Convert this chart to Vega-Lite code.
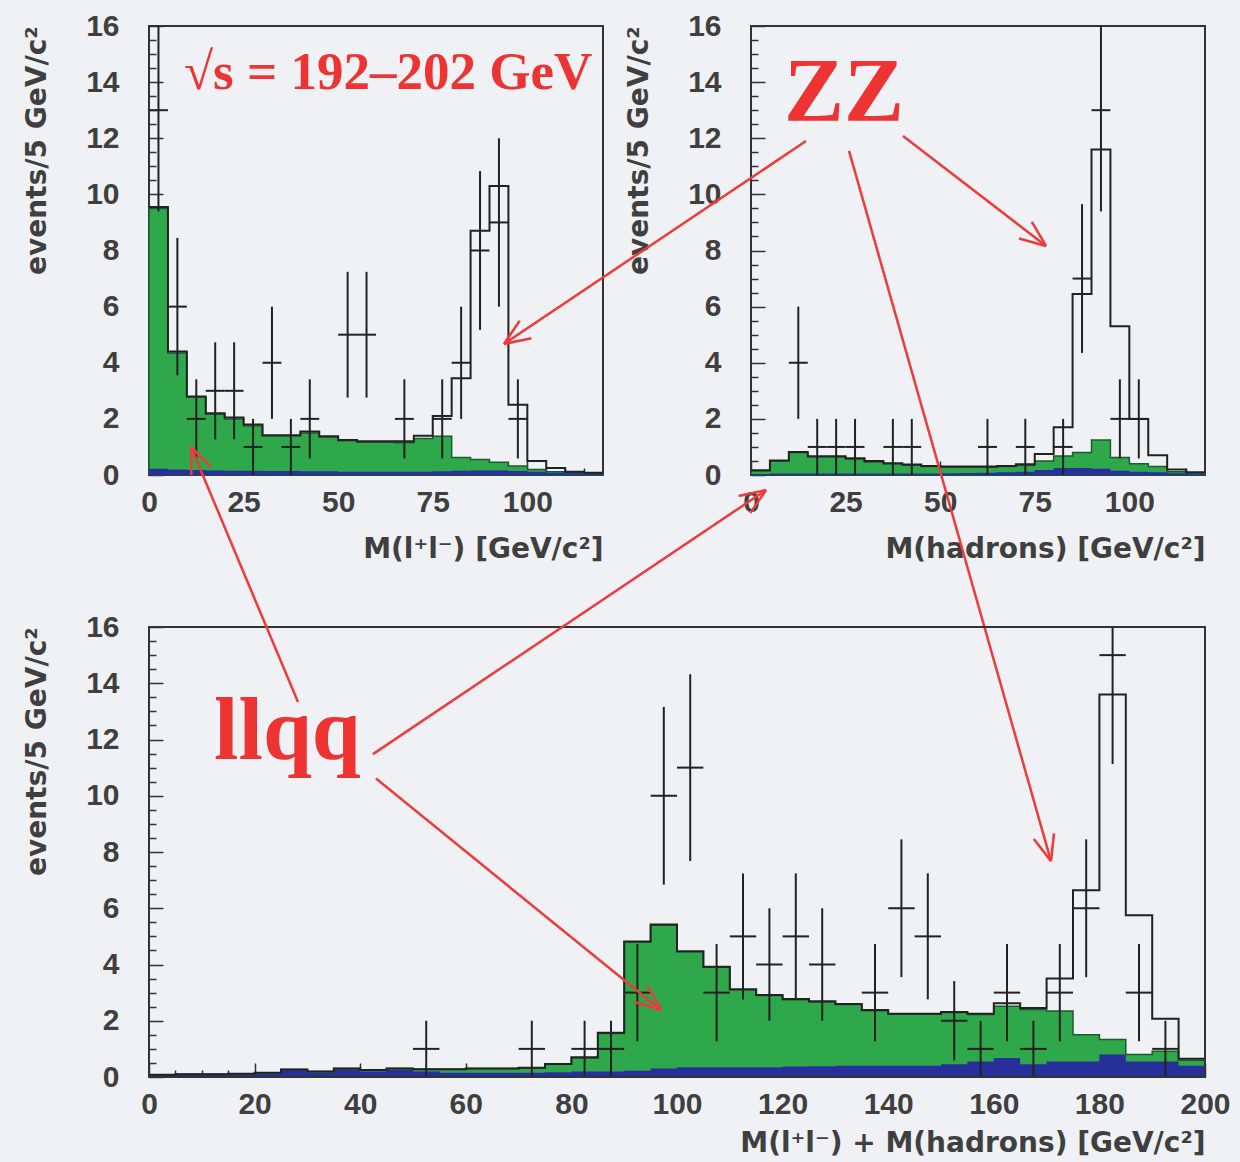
{
  "$schema": "https://vega.github.io/schema/vega-lite/v6.json",
  "background": "#eff1f4",
  "padding": {"left": 22, "top": 10, "right": 10, "bottom": 10},
  "config": {
    "view": {"stroke": "#333333", "strokeWidth": 2},
    "axis": {
      "labelFont": "Liberation Sans", "labelFontSize": 30, "labelFontWeight": "bold", "labelColor": "#3f3f3f",
      "titleFont": "DejaVu Sans", "titleFontSize": 28, "titleFontWeight": "bold", "titleColor": "#3f3f3f",
      "grid": false, "domain": false, "tickColor": "#333333", "tickWidth": 1.5,
      "labelFlush": false, "labelOverlap": false, "labelBound": false, "zindex": 1
    }
  },
  "datasets": {
    "tl_h": [
      {"x": 0, "green": 9.5, "blue": 0.22, "total": 9.55},
      {"x": 5, "green": 4.35, "blue": 0.2, "total": 4.4},
      {"x": 10, "green": 2.78, "blue": 0.18, "total": 2.8},
      {"x": 15, "green": 2.17, "blue": 0.16, "total": 2.2},
      {"x": 20, "green": 2.0, "blue": 0.15, "total": 2.05},
      {"x": 25, "green": 1.75, "blue": 0.15, "total": 1.8},
      {"x": 30, "green": 1.4, "blue": 0.14, "total": 1.42},
      {"x": 35, "green": 1.4, "blue": 0.14, "total": 1.42},
      {"x": 40, "green": 1.5, "blue": 0.13, "total": 1.55},
      {"x": 45, "green": 1.35, "blue": 0.13, "total": 1.38},
      {"x": 50, "green": 1.22, "blue": 0.12, "total": 1.25},
      {"x": 55, "green": 1.17, "blue": 0.12, "total": 1.2},
      {"x": 60, "green": 1.17, "blue": 0.12, "total": 1.2},
      {"x": 65, "green": 1.15, "blue": 0.12, "total": 1.2},
      {"x": 70, "green": 1.3, "blue": 0.12, "total": 1.4},
      {"x": 75, "green": 1.38, "blue": 0.13, "total": 2.1},
      {"x": 80, "green": 0.62, "blue": 0.15, "total": 3.45},
      {"x": 85, "green": 0.55, "blue": 0.16, "total": 8.7},
      {"x": 90, "green": 0.45, "blue": 0.16, "total": 10.3},
      {"x": 95, "green": 0.32, "blue": 0.14, "total": 2.5},
      {"x": 100, "green": 0.2, "blue": 0.12, "total": 0.5},
      {"x": 105, "green": 0.12, "blue": 0.08, "total": 0.25},
      {"x": 110, "green": 0.08, "blue": 0.06, "total": 0.12},
      {"x": 115, "green": 0.06, "blue": 0.05, "total": 0.08},
      {"x": 120, "green": 0.06, "blue": 0.05, "total": 0.08}
    ],
    "tl_p": [
      {"xc": 2.5, "xlo": 0, "xhi": 5, "n": 13, "lo": 9.39, "hi": 16.61},
      {"xc": 7.5, "xlo": 5, "xhi": 10, "n": 6, "lo": 3.55, "hi": 8.45},
      {"xc": 12.5, "xlo": 10, "xhi": 15, "n": 2, "lo": 0.59, "hi": 3.41},
      {"xc": 17.5, "xlo": 15, "xhi": 20, "n": 3, "lo": 1.27, "hi": 4.73},
      {"xc": 22.5, "xlo": 20, "xhi": 25, "n": 3, "lo": 1.27, "hi": 4.73},
      {"xc": 27.5, "xlo": 25, "xhi": 30, "n": 1, "lo": 0, "hi": 2},
      {"xc": 32.5, "xlo": 30, "xhi": 35, "n": 4, "lo": 2, "hi": 6},
      {"xc": 37.5, "xlo": 35, "xhi": 40, "n": 1, "lo": 0, "hi": 2},
      {"xc": 42.5, "xlo": 40, "xhi": 45, "n": 2, "lo": 0.59, "hi": 3.41},
      {"xc": 52.5, "xlo": 50, "xhi": 55, "n": 5, "lo": 2.76, "hi": 7.24},
      {"xc": 57.5, "xlo": 55, "xhi": 60, "n": 5, "lo": 2.76, "hi": 7.24},
      {"xc": 67.5, "xlo": 65, "xhi": 70, "n": 2, "lo": 0.59, "hi": 3.41},
      {"xc": 77.5, "xlo": 75, "xhi": 80, "n": 2, "lo": 0.59, "hi": 3.41},
      {"xc": 82.5, "xlo": 80, "xhi": 85, "n": 4, "lo": 2, "hi": 6},
      {"xc": 87.5, "xlo": 85, "xhi": 90, "n": 8, "lo": 5.17, "hi": 10.83},
      {"xc": 92.5, "xlo": 90, "xhi": 95, "n": 9, "lo": 6, "hi": 12},
      {"xc": 97.5, "xlo": 95, "xhi": 100, "n": 2, "lo": 0.59, "hi": 3.41}
    ],
    "tr_h": [
      {"x": 0, "green": 0.15, "blue": 0.04, "total": 0.17},
      {"x": 5, "green": 0.5, "blue": 0.05, "total": 0.52},
      {"x": 10, "green": 0.8, "blue": 0.05, "total": 0.82},
      {"x": 15, "green": 0.65, "blue": 0.05, "total": 0.67},
      {"x": 20, "green": 0.65, "blue": 0.05, "total": 0.67},
      {"x": 25, "green": 0.57, "blue": 0.05, "total": 0.6},
      {"x": 30, "green": 0.46, "blue": 0.05, "total": 0.5},
      {"x": 35, "green": 0.4, "blue": 0.05, "total": 0.42},
      {"x": 40, "green": 0.35, "blue": 0.05, "total": 0.37},
      {"x": 45, "green": 0.3, "blue": 0.05, "total": 0.32},
      {"x": 50, "green": 0.28, "blue": 0.06, "total": 0.3},
      {"x": 55, "green": 0.28, "blue": 0.07, "total": 0.3},
      {"x": 60, "green": 0.28, "blue": 0.08, "total": 0.3},
      {"x": 65, "green": 0.3, "blue": 0.1, "total": 0.32},
      {"x": 70, "green": 0.34, "blue": 0.12, "total": 0.38},
      {"x": 75, "green": 0.5, "blue": 0.18, "total": 0.75},
      {"x": 80, "green": 0.68, "blue": 0.25, "total": 1.7},
      {"x": 85, "green": 0.8, "blue": 0.25, "total": 6.45},
      {"x": 90, "green": 1.25, "blue": 0.22, "total": 11.6},
      {"x": 95, "green": 0.62, "blue": 0.15, "total": 5.3},
      {"x": 100, "green": 0.4, "blue": 0.12, "total": 2.0},
      {"x": 105, "green": 0.3, "blue": 0.1, "total": 0.7},
      {"x": 110, "green": 0.12, "blue": 0.06, "total": 0.2},
      {"x": 115, "green": 0.08, "blue": 0.05, "total": 0.1},
      {"x": 120, "green": 0.08, "blue": 0.05, "total": 0.1}
    ],
    "tr_p": [
      {"xc": 12.5, "xlo": 10, "xhi": 15, "n": 4, "lo": 2, "hi": 6},
      {"xc": 17.5, "xlo": 15, "xhi": 20, "n": 1, "lo": 0, "hi": 2},
      {"xc": 22.5, "xlo": 20, "xhi": 25, "n": 1, "lo": 0, "hi": 2},
      {"xc": 27.5, "xlo": 25, "xhi": 30, "n": 1, "lo": 0, "hi": 2},
      {"xc": 37.5, "xlo": 35, "xhi": 40, "n": 1, "lo": 0, "hi": 2},
      {"xc": 42.5, "xlo": 40, "xhi": 45, "n": 1, "lo": 0, "hi": 2},
      {"xc": 62.5, "xlo": 60, "xhi": 65, "n": 1, "lo": 0, "hi": 2},
      {"xc": 72.5, "xlo": 70, "xhi": 75, "n": 1, "lo": 0, "hi": 2},
      {"xc": 82.5, "xlo": 80, "xhi": 85, "n": 1, "lo": 0, "hi": 2},
      {"xc": 87.5, "xlo": 85, "xhi": 90, "n": 7, "lo": 4.35, "hi": 9.65},
      {"xc": 92.5, "xlo": 90, "xhi": 95, "n": 13, "lo": 9.39, "hi": 16.61},
      {"xc": 97.5, "xlo": 95, "xhi": 100, "n": 2, "lo": 0.59, "hi": 3.41},
      {"xc": 102.5, "xlo": 100, "xhi": 105, "n": 2, "lo": 0.59, "hi": 3.41}
    ],
    "tr_arrows": [
      {"x": 14.54, "y": 11.9, "x2": -65.29, "y2": 4.67},
      {"x": -65.29, "y": 4.67, "x2": -58.05, "y2": 4.875},
      {"x": -65.29, "y": 4.67, "x2": -61.14, "y2": 5.495},
      {"x": 40.18, "y": 12.08, "x2": 77.98, "y2": 8.161},
      {"x": 77.98, "y": 8.161, "x2": 74.23, "y2": 9.024},
      {"x": 77.98, "y": 8.161, "x2": 70.84, "y2": 8.428},
      {"x": 25.91, "y": 11.55, "x2": 79.3, "y2": -13.76},
      {"x": 79.3, "y": -13.76, "x2": 80.09, "y2": -12.77},
      {"x": 79.3, "y": -13.76, "x2": 74.76, "y2": -12.97}
    ],
    "b_h": [
      {"x": 0, "green": 0.08, "blue": 0.06, "total": 0.08},
      {"x": 5, "green": 0.1, "blue": 0.08, "total": 0.1},
      {"x": 10, "green": 0.1, "blue": 0.08, "total": 0.1},
      {"x": 15, "green": 0.12, "blue": 0.1, "total": 0.12},
      {"x": 20, "green": 0.15, "blue": 0.12, "total": 0.15},
      {"x": 25, "green": 0.27, "blue": 0.25, "total": 0.27},
      {"x": 30, "green": 0.2, "blue": 0.15, "total": 0.2},
      {"x": 35, "green": 0.3, "blue": 0.27, "total": 0.3},
      {"x": 40, "green": 0.25, "blue": 0.2, "total": 0.25},
      {"x": 45, "green": 0.3, "blue": 0.25, "total": 0.3},
      {"x": 50, "green": 0.28, "blue": 0.2, "total": 0.28},
      {"x": 55, "green": 0.28, "blue": 0.15, "total": 0.28},
      {"x": 60, "green": 0.3, "blue": 0.15, "total": 0.3},
      {"x": 65, "green": 0.3, "blue": 0.15, "total": 0.3},
      {"x": 70, "green": 0.32, "blue": 0.15, "total": 0.33},
      {"x": 75, "green": 0.45, "blue": 0.17, "total": 0.46},
      {"x": 80, "green": 0.68, "blue": 0.2, "total": 0.7},
      {"x": 85, "green": 1.55, "blue": 0.2, "total": 1.57},
      {"x": 90, "green": 4.8, "blue": 0.22, "total": 4.82},
      {"x": 95, "green": 5.4, "blue": 0.3, "total": 5.42},
      {"x": 100, "green": 4.45, "blue": 0.35, "total": 4.47},
      {"x": 105, "green": 3.9, "blue": 0.35, "total": 3.92},
      {"x": 110, "green": 3.1, "blue": 0.35, "total": 3.12},
      {"x": 115, "green": 2.9, "blue": 0.35, "total": 2.92},
      {"x": 120, "green": 2.75, "blue": 0.37, "total": 2.77},
      {"x": 125, "green": 2.67, "blue": 0.38, "total": 2.69},
      {"x": 130, "green": 2.58, "blue": 0.4, "total": 2.6},
      {"x": 135, "green": 2.36, "blue": 0.4, "total": 2.38},
      {"x": 140, "green": 2.23, "blue": 0.4, "total": 2.25},
      {"x": 145, "green": 2.23, "blue": 0.4, "total": 2.25},
      {"x": 150, "green": 2.29, "blue": 0.45, "total": 2.31},
      {"x": 155, "green": 2.22, "blue": 0.55, "total": 2.25},
      {"x": 160, "green": 2.52, "blue": 0.68, "total": 2.62},
      {"x": 165, "green": 2.4, "blue": 0.45, "total": 2.45},
      {"x": 170, "green": 2.35, "blue": 0.55, "total": 3.5},
      {"x": 175, "green": 1.5, "blue": 0.55, "total": 6.64},
      {"x": 180, "green": 1.33, "blue": 0.8, "total": 13.6},
      {"x": 185, "green": 0.8, "blue": 0.55, "total": 5.75},
      {"x": 190, "green": 0.92, "blue": 0.55, "total": 2.07},
      {"x": 195, "green": 0.6, "blue": 0.4, "total": 0.65},
      {"x": 200, "green": 0.6, "blue": 0.4, "total": 0.65}
    ],
    "b_p": [
      {"xc": 52.5, "xlo": 50, "xhi": 55, "n": 1, "lo": 0, "hi": 2},
      {"xc": 72.5, "xlo": 70, "xhi": 75, "n": 1, "lo": 0, "hi": 2},
      {"xc": 82.5, "xlo": 80, "xhi": 85, "n": 1, "lo": 0, "hi": 2},
      {"xc": 87.5, "xlo": 85, "xhi": 90, "n": 1, "lo": 0, "hi": 2},
      {"xc": 92.5, "xlo": 90, "xhi": 95, "n": 3, "lo": 1.27, "hi": 4.73},
      {"xc": 97.5, "xlo": 95, "xhi": 100, "n": 10, "lo": 6.84, "hi": 13.16},
      {"xc": 102.5, "xlo": 100, "xhi": 105, "n": 11, "lo": 7.68, "hi": 14.32},
      {"xc": 107.5, "xlo": 105, "xhi": 110, "n": 3, "lo": 1.27, "hi": 4.73},
      {"xc": 112.5, "xlo": 110, "xhi": 115, "n": 5, "lo": 2.76, "hi": 7.24},
      {"xc": 117.5, "xlo": 115, "xhi": 120, "n": 4, "lo": 2, "hi": 6},
      {"xc": 122.5, "xlo": 120, "xhi": 125, "n": 5, "lo": 2.76, "hi": 7.24},
      {"xc": 127.5, "xlo": 125, "xhi": 130, "n": 4, "lo": 2, "hi": 6},
      {"xc": 137.5, "xlo": 135, "xhi": 140, "n": 3, "lo": 1.27, "hi": 4.73},
      {"xc": 142.5, "xlo": 140, "xhi": 145, "n": 6, "lo": 3.55, "hi": 8.45},
      {"xc": 147.5, "xlo": 145, "xhi": 150, "n": 5, "lo": 2.76, "hi": 7.24},
      {"xc": 152.5, "xlo": 150, "xhi": 155, "n": 2, "lo": 0.59, "hi": 3.41},
      {"xc": 157.5, "xlo": 155, "xhi": 160, "n": 1, "lo": 0, "hi": 2},
      {"xc": 162.5, "xlo": 160, "xhi": 165, "n": 3, "lo": 1.27, "hi": 4.73},
      {"xc": 167.5, "xlo": 165, "xhi": 170, "n": 1, "lo": 0, "hi": 2},
      {"xc": 172.5, "xlo": 170, "xhi": 175, "n": 3, "lo": 1.27, "hi": 4.73},
      {"xc": 177.5, "xlo": 175, "xhi": 180, "n": 6, "lo": 3.55, "hi": 8.45},
      {"xc": 182.5, "xlo": 180, "xhi": 185, "n": 15, "lo": 11.13, "hi": 16},
      {"xc": 187.5, "xlo": 185, "xhi": 190, "n": 3, "lo": 1.27, "hi": 4.73},
      {"xc": 192.5, "xlo": 190, "xhi": 195, "n": 1, "lo": 0, "hi": 2}
    ],
    "b_arrows": [
      {"x": 28.22, "y": 13.33, "x2": 7.955, "y2": 22.4},
      {"x": 7.955, "y": 22.4, "x2": 8.03, "y2": 21.4},
      {"x": 7.955, "y": 22.4, "x2": 11.69, "y2": 21.69},
      {"x": 42.42, "y": 11.48, "x2": 116.86, "y2": 20.87},
      {"x": 116.86, "y": 20.87, "x2": 111.67, "y2": 20.66},
      {"x": 116.86, "y": 20.87, "x2": 113.88, "y2": 20.05},
      {"x": 42.99, "y": 10.61, "x2": 96.97, "y2": 2.382},
      {"x": 96.97, "y": 2.382, "x2": 94.39, "y2": 3.253},
      {"x": 96.97, "y": 2.382, "x2": 91.89, "y2": 2.674}
    ]
  },
  "bounds": "flush",
  "columns": 2,
  "align": "all",
  "spacing": {"row": 151, "column": 148},
  "concat": [
    {
      "width": 454, "height": 449,
      "resolve": {"axis": {"x": "independent", "y": "independent"}},
      "layer": [
        {"data": {"name": "tl_h"},
         "mark": {"type": "area", "interpolate": "step-after", "fill": "#2ea84a", "stroke": "#1f5a2e", "strokeWidth": 1.5},
         "encoding": {
           "x": {"field": "x", "type": "quantitative", "scale": {"domain": [0, 120], "nice": false, "zero": false},
                 "axis": {"values": [0, 25, 50, 75, 100], "tickSize": -14, "labelPadding": 26, "title": "M(l⁺l⁻) [GeV/c²]", "titleAnchor": "end", "titlePadding": 18}},
           "y": {"field": "green", "type": "quantitative", "scale": {"domain": [0, 16], "nice": false},
                 "axis": {"values": [0, 2, 4, 6, 8, 10, 12, 14, 16], "tickSize": -14, "labelPadding": 44, "title": "events/5 GeV/c²", "titleAnchor": "end", "titlePadding": 34}}
         }},
        {"data": {"name": "tl_h"},
         "mark": {"type": "area", "interpolate": "step-after", "fill": "#27309a"},
         "encoding": {
           "x": {"field": "x", "type": "quantitative", "scale": {"domain": [0, 120], "nice": false, "zero": false},
                 "axis": {"values": [5, 10, 15, 20, 30, 35, 40, 45, 55, 60, 65, 70, 80, 85, 90, 95, 105, 110, 115], "tickSize": -7, "labels": false, "title": null, "orient": "bottom"}},
           "y": {"field": "blue", "type": "quantitative", "scale": {"domain": [0, 16], "nice": false},
                 "axis": {"values": [0.5, 1, 1.5, 2.5, 3, 3.5, 4.5, 5, 5.5, 6.5, 7, 7.5, 8.5, 9, 9.5, 10.5, 11, 11.5, 12.5, 13, 13.5, 14.5, 15, 15.5], "tickSize": -7, "labels": false, "title": null, "orient": "left"}}
         }},
        {"data": {"name": "tl_h"},
         "mark": {"type": "line", "interpolate": "step-after", "stroke": "#222222", "strokeWidth": 2},
         "encoding": {
           "x": {"field": "x", "type": "quantitative", "scale": {"domain": [0, 120], "nice": false, "zero": false}, "axis": null},
           "y": {"field": "total", "type": "quantitative", "scale": {"domain": [0, 16], "nice": false}, "axis": null}
         }},
        {"data": {"name": "tl_p"},
         "mark": {"type": "rule", "stroke": "#222222", "strokeWidth": 2, "clip": true},
         "encoding": {
           "x": {"field": "xc", "type": "quantitative", "scale": {"domain": [0, 120], "nice": false, "zero": false}, "axis": null},
           "y": {"field": "lo", "type": "quantitative", "scale": {"domain": [0, 16], "nice": false}, "axis": null},
           "y2": {"field": "hi"}
         }},
        {"data": {"name": "tl_p"},
         "mark": {"type": "rule", "stroke": "#222222", "strokeWidth": 2, "clip": true},
         "encoding": {
           "x": {"field": "xlo", "type": "quantitative", "scale": {"domain": [0, 120], "nice": false, "zero": false}, "axis": null},
           "x2": {"field": "xhi"},
           "y": {"field": "n", "type": "quantitative", "scale": {"domain": [0, 16], "nice": false}, "axis": null}
         }},
        {"data": {"values": [{"label": "√s = 192–202 GeV"}]},
         "mark": {"type": "text", "font": "Liberation Serif", "fontWeight": "bold", "fontSize": 53, "fill": "#ee3333", "align": "left", "baseline": "alphabetic"},
         "encoding": {
           "x": {"datum": 9.25, "type": "quantitative", "scale": {"domain": [0, 120], "nice": false, "zero": false}, "axis": null},
           "y": {"datum": 13.76, "type": "quantitative", "scale": {"domain": [0, 16], "nice": false}, "axis": null},
           "text": {"field": "label"}
         }}
      ]
    },
    {
      "width": 454, "height": 449,
      "resolve": {"axis": {"x": "independent", "y": "independent"}},
      "layer": [
        {"data": {"name": "tr_h"},
         "mark": {"type": "area", "interpolate": "step-after", "fill": "#2ea84a", "stroke": "#1f5a2e", "strokeWidth": 1.5},
         "encoding": {
           "x": {"field": "x", "type": "quantitative", "scale": {"domain": [0, 120], "nice": false, "zero": false},
                 "axis": {"values": [0, 25, 50, 75, 100], "tickSize": -14, "labelPadding": 26, "title": "M(hadrons) [GeV/c²]", "titleAnchor": "end", "titlePadding": 18}},
           "y": {"field": "green", "type": "quantitative", "scale": {"domain": [0, 16], "nice": false},
                 "axis": {"values": [0, 2, 4, 6, 8, 10, 12, 14, 16], "tickSize": -14, "labelPadding": 44, "title": "events/5 GeV/c²", "titleAnchor": "end", "titlePadding": 34}}
         }},
        {"data": {"name": "tr_h"},
         "mark": {"type": "area", "interpolate": "step-after", "fill": "#27309a"},
         "encoding": {
           "x": {"field": "x", "type": "quantitative", "scale": {"domain": [0, 120], "nice": false, "zero": false},
                 "axis": {"values": [5, 10, 15, 20, 30, 35, 40, 45, 55, 60, 65, 70, 80, 85, 90, 95, 105, 110, 115], "tickSize": -7, "labels": false, "title": null, "orient": "bottom"}},
           "y": {"field": "blue", "type": "quantitative", "scale": {"domain": [0, 16], "nice": false},
                 "axis": {"values": [0.5, 1, 1.5, 2.5, 3, 3.5, 4.5, 5, 5.5, 6.5, 7, 7.5, 8.5, 9, 9.5, 10.5, 11, 11.5, 12.5, 13, 13.5, 14.5, 15, 15.5], "tickSize": -7, "labels": false, "title": null, "orient": "left"}}
         }},
        {"data": {"name": "tr_h"},
         "mark": {"type": "line", "interpolate": "step-after", "stroke": "#222222", "strokeWidth": 2},
         "encoding": {
           "x": {"field": "x", "type": "quantitative", "scale": {"domain": [0, 120], "nice": false, "zero": false}, "axis": null},
           "y": {"field": "total", "type": "quantitative", "scale": {"domain": [0, 16], "nice": false}, "axis": null}
         }},
        {"data": {"name": "tr_p"},
         "mark": {"type": "rule", "stroke": "#222222", "strokeWidth": 2, "clip": true},
         "encoding": {
           "x": {"field": "xc", "type": "quantitative", "scale": {"domain": [0, 120], "nice": false, "zero": false}, "axis": null},
           "y": {"field": "lo", "type": "quantitative", "scale": {"domain": [0, 16], "nice": false}, "axis": null},
           "y2": {"field": "hi"}
         }},
        {"data": {"name": "tr_p"},
         "mark": {"type": "rule", "stroke": "#222222", "strokeWidth": 2, "clip": true},
         "encoding": {
           "x": {"field": "xlo", "type": "quantitative", "scale": {"domain": [0, 120], "nice": false, "zero": false}, "axis": null},
           "x2": {"field": "xhi"},
           "y": {"field": "n", "type": "quantitative", "scale": {"domain": [0, 16], "nice": false}, "axis": null}
         }},
        {"data": {"values": [{"label": "ZZ"}]},
         "mark": {"type": "text", "font": "Liberation Serif", "fontWeight": "bold", "fontSize": 90, "fill": "#ee3333", "align": "left", "baseline": "alphabetic"},
         "encoding": {
           "x": {"datum": 8.72, "type": "quantitative", "scale": {"domain": [0, 120], "nice": false, "zero": false}, "axis": null},
           "y": {"datum": 12.62, "type": "quantitative", "scale": {"domain": [0, 16], "nice": false}, "axis": null},
           "text": {"field": "label"}
         }},
        {"data": {"name": "tr_arrows"},
         "mark": {"type": "rule", "stroke": "#ee3b3b", "strokeWidth": 2.5},
         "encoding": {
           "x": {"field": "x", "type": "quantitative", "scale": {"domain": [0, 120], "nice": false, "zero": false}, "axis": null},
           "y": {"field": "y", "type": "quantitative", "scale": {"domain": [0, 16], "nice": false}, "axis": null},
           "x2": {"field": "x2"},
           "y2": {"field": "y2"}
         }}
      ]
    },
    {
      "width": 454, "height": 450,
      "view": {"stroke": null},
      "resolve": {"axis": {"x": "independent", "y": "independent"}},
      "layer": [
        {"data": {"name": "b_h"},
         "mark": {"type": "area", "interpolate": "step-after", "fill": "#2ea84a", "stroke": "#1f5a2e", "strokeWidth": 1.5},
         "encoding": {
           "x": {"field": "x", "type": "quantitative", "scale": {"domain": [0, 200], "range": [0, 1056], "nice": false, "zero": false},
                 "axis": {"values": [0, 20, 40, 60, 80, 100, 120, 140, 160, 180, 200], "tickSize": -14, "labelPadding": 26, "title": "M(l⁺l⁻) + M(hadrons) [GeV/c²]", "titleAnchor": "end", "titlePadding": 10}},
           "y": {"field": "green", "type": "quantitative", "scale": {"domain": [0, 16], "nice": false},
                 "axis": {"values": [0, 2, 4, 6, 8, 10, 12, 14, 16], "tickSize": -14, "labelPadding": 44, "title": "events/5 GeV/c²", "titleAnchor": "end", "titlePadding": 34}}
         }},
        {"data": {"name": "b_h"},
         "mark": {"type": "area", "interpolate": "step-after", "fill": "#27309a"},
         "encoding": {
           "x": {"field": "x", "type": "quantitative", "scale": {"domain": [0, 200], "range": [0, 1056], "nice": false, "zero": false},
                 "axis": {"values": [5, 10, 15, 25, 30, 35, 45, 50, 55, 65, 70, 75, 85, 90, 95, 105, 110, 115, 125, 130, 135, 145, 150, 155, 165, 170, 175, 185, 190, 195], "tickSize": -7, "labels": false, "title": null, "orient": "bottom"}},
           "y": {"field": "blue", "type": "quantitative", "scale": {"domain": [0, 16], "nice": false},
                 "axis": {"values": [0.5, 1, 1.5, 2.5, 3, 3.5, 4.5, 5, 5.5, 6.5, 7, 7.5, 8.5, 9, 9.5, 10.5, 11, 11.5, 12.5, 13, 13.5, 14.5, 15, 15.5], "tickSize": -7, "labels": false, "title": null, "orient": "left"}}
         }},
        {"data": {"name": "b_h"},
         "mark": {"type": "line", "interpolate": "step-after", "stroke": "#222222", "strokeWidth": 2},
         "encoding": {
           "x": {"field": "x", "type": "quantitative", "scale": {"domain": [0, 200], "range": [0, 1056], "nice": false, "zero": false}, "axis": null},
           "y": {"field": "total", "type": "quantitative", "scale": {"domain": [0, 16], "nice": false}, "axis": null}
         }},
        {"data": {"name": "b_p"},
         "mark": {"type": "rule", "stroke": "#222222", "strokeWidth": 2},
         "encoding": {
           "x": {"field": "xc", "type": "quantitative", "scale": {"domain": [0, 200], "range": [0, 1056], "nice": false, "zero": false}, "axis": null},
           "y": {"field": "lo", "type": "quantitative", "scale": {"domain": [0, 16], "nice": false}, "axis": null},
           "y2": {"field": "hi"}
         }},
        {"data": {"name": "b_p"},
         "mark": {"type": "rule", "stroke": "#222222", "strokeWidth": 2},
         "encoding": {
           "x": {"field": "xlo", "type": "quantitative", "scale": {"domain": [0, 200], "range": [0, 1056], "nice": false, "zero": false}, "axis": null},
           "x2": {"field": "xhi"},
           "y": {"field": "n", "type": "quantitative", "scale": {"domain": [0, 16], "nice": false}, "axis": null}
         }},
        {"data": {"values": [{"label": "frame"}]},
         "mark": {"type": "rect", "fill": null, "stroke": "#333333", "strokeWidth": 2},
         "encoding": {
           "x": {"datum": 0, "type": "quantitative", "scale": {"domain": [0, 200], "range": [0, 1056], "nice": false, "zero": false}, "axis": null},
           "x2": {"datum": 200},
           "y": {"datum": 0, "type": "quantitative", "scale": {"domain": [0, 16], "nice": false}, "axis": null},
           "y2": {"datum": 16}
         }},
        {"data": {"values": [{"label": "llqq"}]},
         "mark": {"type": "text", "font": "Liberation Serif", "fontWeight": "bold", "fontSize": 88, "fill": "#ee3333", "align": "left", "baseline": "alphabetic"},
         "encoding": {
           "x": {"datum": 12.31, "type": "quantitative", "scale": {"domain": [0, 200], "range": [0, 1056], "nice": false, "zero": false}, "axis": null},
           "y": {"datum": 11.31, "type": "quantitative", "scale": {"domain": [0, 16], "nice": false}, "axis": null},
           "text": {"field": "label"}
         }},
        {"data": {"name": "b_arrows"},
         "mark": {"type": "rule", "stroke": "#ee3b3b", "strokeWidth": 2.5},
         "encoding": {
           "x": {"field": "x", "type": "quantitative", "scale": {"domain": [0, 200], "range": [0, 1056], "nice": false, "zero": false}, "axis": null},
           "y": {"field": "y", "type": "quantitative", "scale": {"domain": [0, 16], "nice": false}, "axis": null},
           "x2": {"field": "x2"},
           "y2": {"field": "y2"}
         }}
      ]
    }
  ]
}
